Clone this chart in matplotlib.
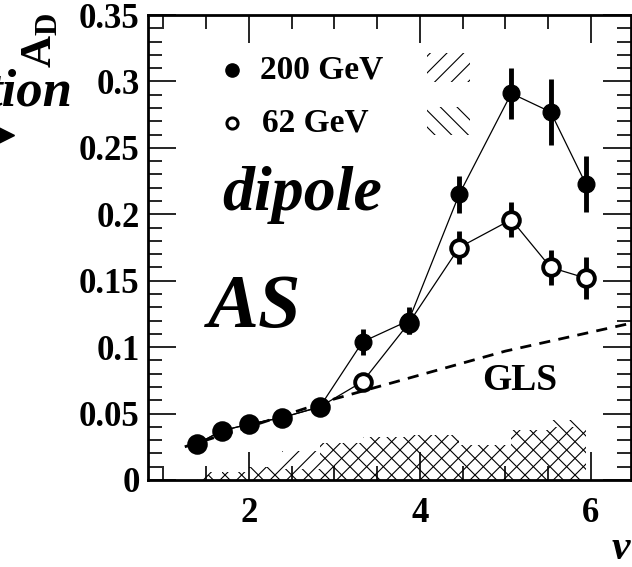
import matplotlib
matplotlib.use("Agg")
import matplotlib.pyplot as plt
from matplotlib.lines import Line2D
from matplotlib.patches import Rectangle
import numpy as np

# -------------------------------
# Data
# -------------------------------
nu = [1.39, 1.68, 2.0, 2.39, 2.83, 3.33, 3.87, 4.46, 5.07, 5.53, 5.94]

ad_200 = [0.027, 0.037, 0.042, 0.047, 0.055, 0.104, 0.120, 0.215, 0.291, 0.277, 0.223]
err_200 = [0.002, 0.002, 0.002, 0.002, 0.003, 0.010, 0.010, 0.014, 0.019, 0.025, 0.021]

ad_62 = [0.027, 0.037, 0.042, 0.047, 0.055, 0.074, 0.118, 0.175, 0.196, 0.160, 0.152]
err_62 = [0.002, 0.002, 0.002, 0.002, 0.003, 0.004, 0.008, 0.0125, 0.013, 0.013, 0.0155]

# systematic bands (step per point)
sys_200 = [0.006, 0.006, 0.010, 0.022, 0.028, 0.032, 0.034, 0.026, 0.038, 0.040, 0.040]
sys_62 = [0.004, 0.006, 0.010, 0.008, 0.028, 0.032, 0.034, 0.026, 0.038, 0.045, 0.045]

# GLS reference line
gls_nu = [1.25, 2.0, 3.0, 4.0, 5.0, 6.47]
gls_ad = [0.025, 0.040, 0.061, 0.079, 0.097, 0.118]

xticks = [2, 4, 6]
yticks = [0, 0.05, 0.1, 0.15, 0.2, 0.25, 0.3, 0.35]
ytick_labels = ["0", "0.05", "0.1", "0.15", "0.2", "0.25", "0.3", "0.35"]

# -------------------------------
# Style
# -------------------------------
plt.rcParams["font.family"] = ["Liberation Serif", "DejaVu Serif"]
plt.rcParams["font.weight"] = "bold"
plt.rcParams["mathtext.fontset"] = "custom"
plt.rcParams["mathtext.bf"] = "Liberation Serif:bold"
plt.rcParams["mathtext.rm"] = "Liberation Serif:bold"
plt.rcParams["hatch.linewidth"] = 0.8

fig = plt.figure(figsize=(6.32, 5.67), dpi=100)
ax = fig.add_axes([148 / 632, 1 - 480 / 567, (631 - 148) / 632, (480 - 15) / 567])

# -------------------------------
# Systematic bands
# -------------------------------
ax.fill_between(nu, 0, sys_200, step="post", facecolor="none", edgecolor="black",
                hatch="//", linewidth=0)
ax.fill_between(nu, 0, sys_62, step="post", facecolor="none", edgecolor="black",
                hatch="\\\\", linewidth=0)

# GLS
ax.plot(gls_nu, gls_ad, "k--", lw=2, dashes=(4, 3))

# -------------------------------
# Data points
# -------------------------------
ax.plot(nu, ad_62, "-", color="black", lw=0.9)
ax.errorbar(nu, ad_62, yerr=err_62, fmt="o", ms=12, mfc="white", mec="black", mew=2.8,
            ecolor="black", elinewidth=3.5, capsize=0)
ax.plot(nu, ad_200, "-", color="black", lw=0.9)
ax.errorbar(nu, ad_200, yerr=err_200, fmt="o", ms=12, mfc="black", mec="black",
            ecolor="black", elinewidth=3.5, capsize=0)

# -------------------------------
# Axes
# -------------------------------
ax.set_xlim(0.82, 6.47)
ax.set_ylim(0, 0.35)
ax.set_xticks(xticks)
ax.set_xticks(np.arange(1.0, 6.5, 0.5), minor=True)
ax.set_yticks(yticks)
ax.set_yticklabels(ytick_labels)
ax.set_yticks(np.arange(0, 0.351, 0.01), minor=True)
ax.tick_params(which="both", direction="in", top=True, right=True, width=1.2,
               labelsize=25, pad=6)
ax.tick_params(which="major", length=20)
ax.tick_params(which="minor", length=10)
ax.tick_params(axis="x", pad=12)
for s in ax.spines.values():
    s.set_linewidth(2)

# -------------------------------
# Text
# -------------------------------
fig.text(222 / 632, 1 - 210 / 567, "dipole", fontsize=46,
         style="italic", weight="bold", ha="left", va="baseline")
fig.text(208 / 632, 1 - 327 / 567, "AS", fontsize=55,
         style="italic", weight="bold", ha="left", va="baseline")
fig.text(482 / 632, 1 - 390 / 567, "GLS", fontsize=27,
         weight="bold", ha="left", va="baseline")

# legend
ax.plot([232 / 632], [1 - 70 / 567], "o", ms=9.5, mfc="black", mec="black",
        transform=fig.transFigure, clip_on=False)
ax.plot([232 / 632], [1 - 123 / 567], "o", ms=8, mfc="white", mec="black", mew=2.2,
        transform=fig.transFigure, clip_on=False)
fig.text(260 / 632, 1 - 70 / 567, "200 GeV", fontsize=24, weight="bold", va="center")
fig.text(262 / 632, 1 - 123 / 567, "62 GeV", fontsize=24, weight="bold", va="center")
fig.add_artist(Rectangle((427 / 632, 1 - 82 / 567), 43 / 632, 29 / 567,
                         transform=fig.transFigure, facecolor="none", edgecolor="black",
                         hatch="//", linewidth=0))
fig.add_artist(Rectangle((427 / 632, 1 - 135 / 567), 43 / 632, 28 / 567,
                         transform=fig.transFigure, facecolor="none", edgecolor="black",
                         hatch="\\\\", linewidth=0))

# axis titles (partially cut in the original)
fig.text(40 / 632, 1 - 40 / 567, r"$\mathbf{A_D}$", fontsize=32, rotation=90,
         ha="center", va="center")
fig.text(72 / 632, 1 - 106 / 567, "tion", fontsize=38, style="italic", weight="bold",
         ha="right", va="baseline")
fig.add_artist(Line2D([0.0], [1 - 135 / 567], marker=">", ms=20, color="black",
                      transform=fig.transFigure))
fig.text(630 / 632, 1 - 559 / 567, "ν", fontsize=30, style="italic", weight="bold",
         ha="right", va="baseline")

fig.savefig("out.png", dpi=100)
